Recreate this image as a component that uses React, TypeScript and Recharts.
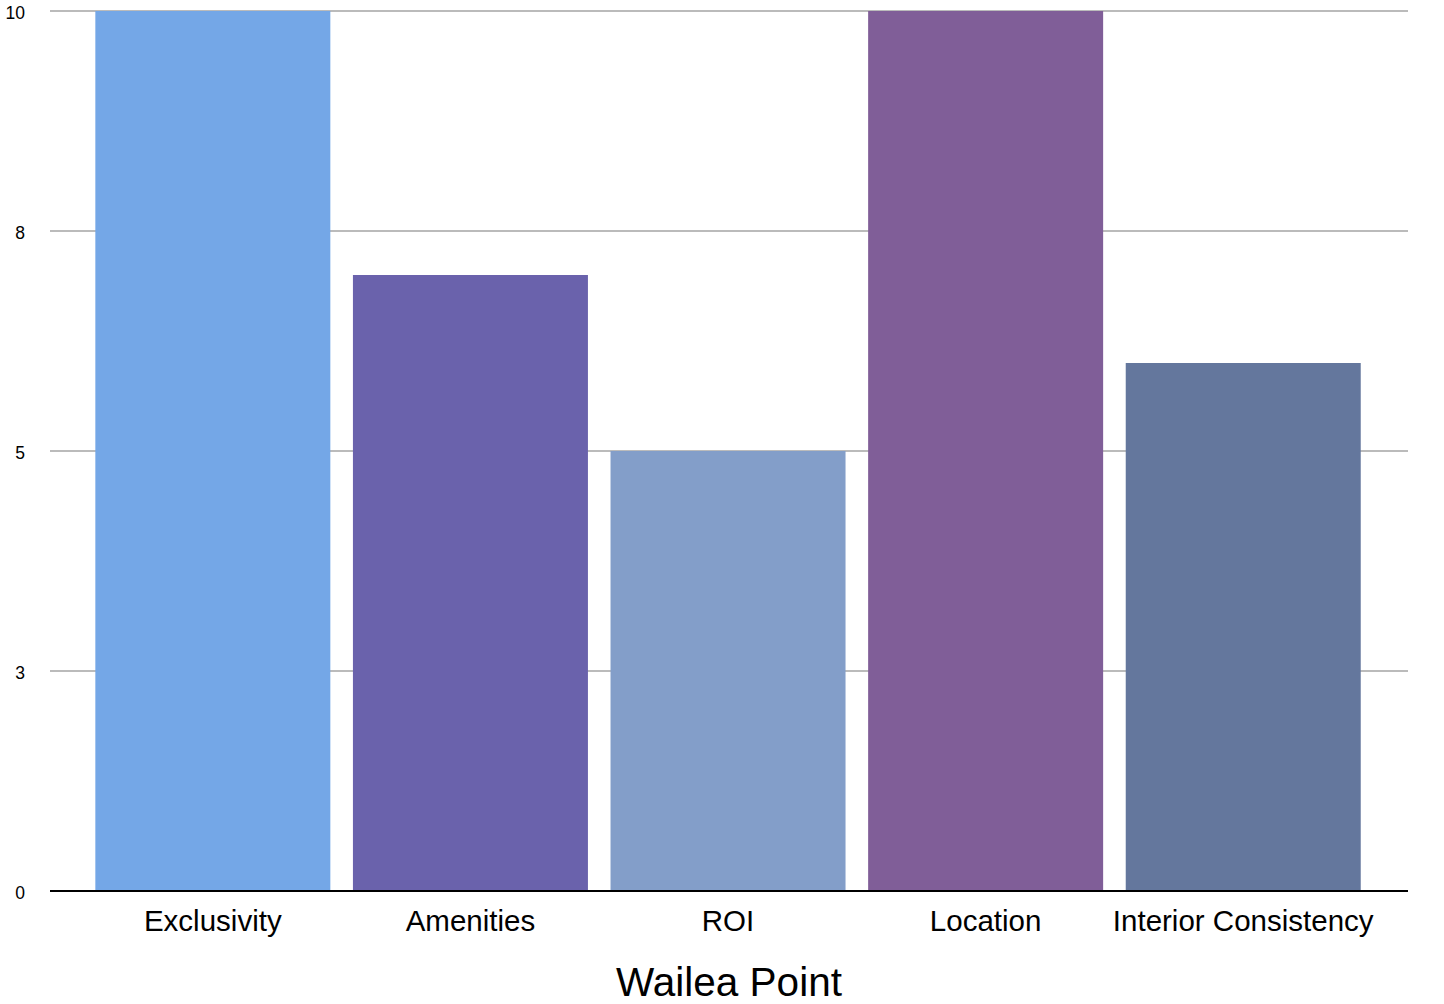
import { BarChart, Bar, XAxis, YAxis, CartesianGrid, Cell } from "recharts";

const categories = ["Exclusivity", "Amenities", "ROI", "Location", "Interior Consistency"];
const scores = [10, 7, 5, 10, 6];
const barColors = ["#74A7E7", "#6A62AC", "#839EC9", "#805E98", "#64779D"];
const yTicks = [0, 2.5, 5, 7.5, 10];
const chartTitle = "Wailea Point";

const data = categories.map((name, i) => ({ name, score: scores[i] }));

const font = "'Liberation Sans', Arial, Helvetica, sans-serif";

export default function App() {
  return (
    <div style={{ position: "absolute", left: 0, top: 0, width: 1444, height: 1004, background: "#fff" }}>
      <BarChart
        width={1444}
        height={1004}
        data={data}
        margin={{ top: 11, right: 36, left: 0, bottom: 0 }}
        barCategoryGap="4.4%"
      >
        <CartesianGrid vertical={false} stroke="#BBBBBB" strokeWidth={2} />
        <XAxis
          dataKey="name"
          height={113}
          padding={{ left: 34, right: 36 }}
          axisLine={{ stroke: "#000", strokeWidth: 2 }}
          tickLine={false}
          tickSize={0}
          tickMargin={19}
          interval={0}
          tick={{ fill: "#000", fontSize: 29.5, fontFamily: font }}
          label={{
            value: chartTitle,
            position: "insideBottom",
            offset: 8,
            fill: "#000",
            fontSize: 40.5,
            fontFamily: font,
          }}
        />
        <YAxis
          width={50}
          domain={[0, 10]}
          ticks={yTicks}
          tickFormatter={(v: number) => String(Math.round(v))}
          axisLine={false}
          tickLine={false}
          tickSize={0}
          tickMargin={25}
          tick={{ fill: "#000", fontSize: 17.5, fontFamily: font, dy: 2 }}
        />
        <Bar dataKey="score" isAnimationActive={false}>
          {data.map((d, i) => (
            <Cell key={d.name} fill={barColors[i]} />
          ))}
        </Bar>
      </BarChart>
    </div>
  );
}
